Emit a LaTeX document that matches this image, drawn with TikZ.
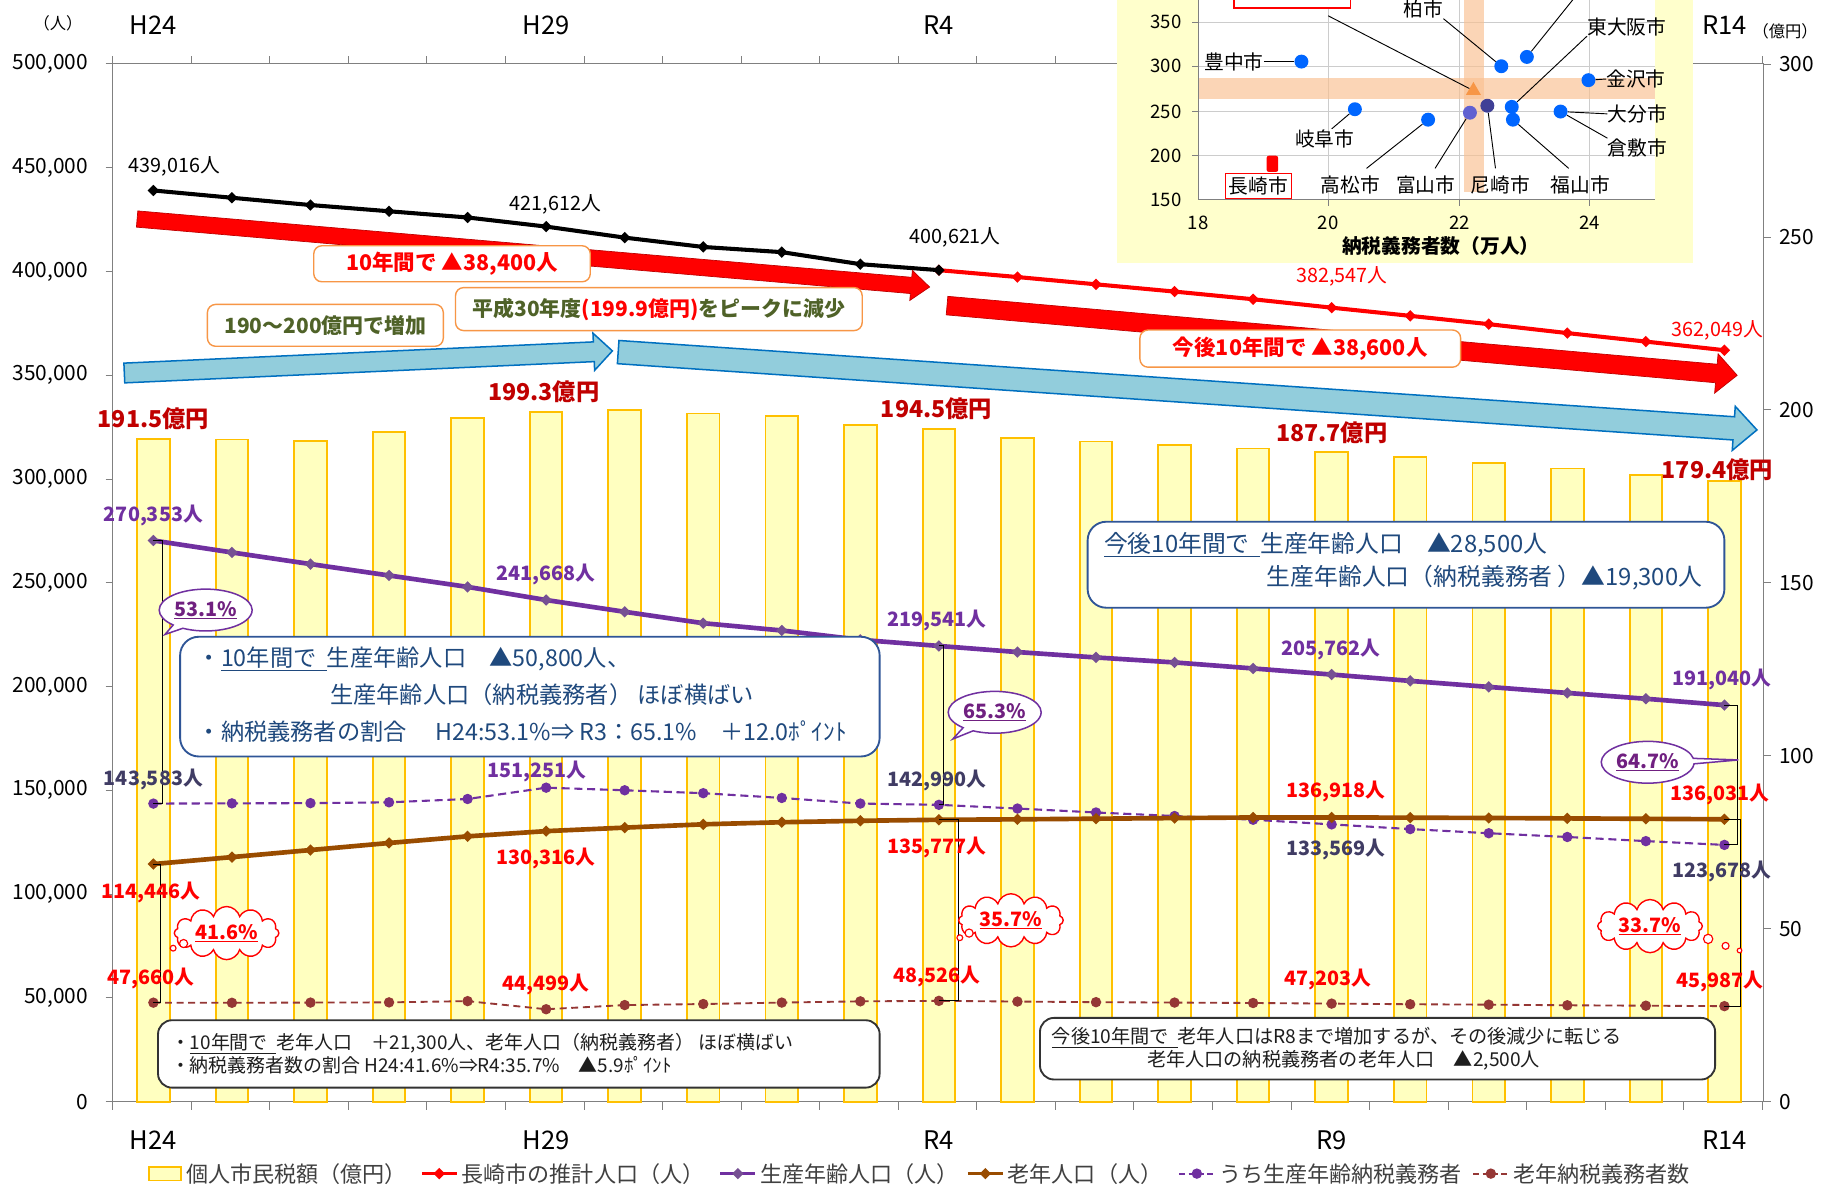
\documentclass[tikz,border=0pt]{standalone}
\usepackage{fontspec}
\setmainfont{Noto Sans CJK JP}
\usetikzlibrary{calc,shapes.callouts,shapes.symbols,shapes.geometric}
\newcommand\fz[1]{\fontsize{#1}{#1}\selectfont}
\definecolor{barfill}{RGB}{255,255,192}
\definecolor{barline}{RGB}{255,192,0}
\definecolor{purp}{RGB}{112,48,160}
\definecolor{brn}{RGB}{153,76,0}
\definecolor{brnd}{RGB}{149,55,53}
\definecolor{dred}{RGB}{192,0,0}
\definecolor{slate}{RGB}{64,60,100}
\definecolor{olive}{RGB}{79,98,40}
\definecolor{orbox}{RGB}{247,150,70}
\definecolor{bluebox}{RGB}{47,85,151}
\definecolor{bluetxt}{RGB}{31,73,125}
\definecolor{arrblue}{RGB}{146,205,220}
\definecolor{arrblueb}{RGB}{0,112,192}
\definecolor{axisgray}{RGB}{128,128,128}
\definecolor{legtxt}{RGB}{64,64,64}
\definecolor{insety}{RGB}{255,255,204}
\definecolor{band}{RGB}{250,192,144}
\definecolor{dotblue}{RGB}{0,102,255}
\definecolor{pctpurp}{RGB}{112,32,128}
\definecolor{dtxt}{RGB}{30,30,30}
\newcommand\fatarrow[6]{%
  \coordinate (fa-c) at ($(#3)!#5!(#2)$);
  \filldraw[#1] ($(#2)!#4!90:(#3)$) -- ($(fa-c)!#4!90:(#3)$) -- ($(fa-c)!#6!90:(#3)$) -- (#3) -- ($(fa-c)!#6!-90:(#3)$) -- ($(fa-c)!#4!-90:(#3)$) -- ($(#2)!#4!-90:(#3)$) -- cycle;}
\begin{document}
\begin{tikzpicture}[x=1pt,y=-1pt,
  ax/.style={axisgray, line width=0.8pt},
  axlab/.style={inner sep=0pt, font=\fz{18}, text=black},
  cat/.style={inner sep=0pt, font=\fz{22}, text=black},
  lab/.style={inner sep=0pt, font=\fz{17}},
  blab/.style={inner sep=0pt, font=\fz{17}\bfseries},
  yen/.style={inner sep=0pt, font=\fz{20}\bfseries, text=dred},
  bar/.style={draw=barline, fill=barfill, line width=1.6pt},
  dia/.style={diamond, inner sep=0pt, minimum size=10pt},
  dotm/.style={circle, inner sep=0pt, minimum size=9pt},
  obox/.style={draw=orbox, fill=white, rounded corners=7pt, line width=1.2pt, inner sep=0pt},
  bbox/.style={draw=bluebox, fill=white, rounded corners=16pt, line width=1.6pt, inner sep=0pt},
  kbox/.style={draw=black!80, fill=white, rounded corners=12pt, line width=1.6pt, inner sep=0pt},
  btxt/.style={inner sep=0pt, anchor=west, font=\fz{20}, text=bluetxt},
  ktxt/.style={inner sep=0pt, anchor=west, font=\fz{16.3}, text=dtxt},
  ecall/.style={ellipse callout, draw=purp, fill=white, line width=1.3pt, minimum width=80pt, minimum height=36pt, inner sep=0pt, font=\fz{17}\bfseries, text=pctpurp},
  cld/.style={cloud, cloud puffs=12, aspect=2.4, draw=red, fill=white, line width=1.2pt, minimum width=90pt, minimum height=36pt, inner sep=0pt, font=\fz{17}\bfseries, text=red},
  puff/.style={circle, draw=red, fill=white, line width=1pt, inner sep=0pt},
  redarr/.style={fill=red, draw=red!75!black, line width=0.6pt},
  bluarr/.style={fill=arrblue, draw=arrblueb, line width=1.3pt},
  leg/.style={inner sep=0pt, anchor=west, font=\fz{19}, text=legtxt},
  ilab/.style={inner sep=0pt, font=\fz{17}, text=black},
  inum/.style={inner sep=0pt, font=\fz{16}, text=black},
  idot/.style={circle, fill=dotblue, inner sep=0pt, minimum size=12pt},
  pt/.style={black, line width=0.8pt}
]
\useasboundingbox (0,0) rectangle (1568,1019);
\fill[white] (0,0) rectangle (1568,1019);

% ---------- axes ----------
\draw[ax] (97,55) -- (1518,55);
\draw[ax] (97,948) -- (1518,948);
\draw[ax] (97,55) -- (97,948);
\draw[ax] (1518,55) -- (1518,948);
\foreach \k in {0,...,21} {
  \draw[ax] ({97+67.6*\k},55) -- ({97+67.6*\k},48);
  \draw[ax] ({97+67.6*\k},948) -- ({97+67.6*\k},955);
}
\foreach \k in {0,...,10} \draw[ax] (91,{948-89.3*\k}) -- (97,{948-89.3*\k});
\foreach \k in {0,...,6} \draw[ax] (1518,{948-148.8*\k}) -- (1524,{948-148.8*\k});

\node[axlab, anchor=east] (yl0) at (76,948) {0};
\node[axlab, anchor=east] (yl1) at (76,858.7) {50,000};
\node[axlab, anchor=east] (yl2) at (76,769.4) {100,000};
\node[axlab, anchor=east] (yl3) at (76,680.1) {150,000};
\node[axlab, anchor=east] (yl4) at (76,590.8) {200,000};
\node[axlab, anchor=east] (yl5) at (76,501.5) {250,000};
\node[axlab, anchor=east] (yl6) at (76,412.2) {300,000};
\node[axlab, anchor=east] (yl7) at (76,322.9) {350,000};
\node[axlab, anchor=east] (yl8) at (76,233.6) {400,000};
\node[axlab, anchor=east] (yl9) at (76,144.3) {450,000};
\node[axlab, anchor=east] (yl10) at (76,55) {500,000};
\node[axlab, anchor=west] (yr0) at (1531,948) {0};
\node[axlab, anchor=west] (yr1) at (1531,799.2) {50};
\node[axlab, anchor=west] (yr2) at (1531,650.4) {100};
\node[axlab, anchor=west] (yr3) at (1531,501.6) {150};
\node[axlab, anchor=west] (yr4) at (1531,352.8) {200};
\node[axlab, anchor=west] (yr5) at (1531,204) {250};
\node[axlab, anchor=west] (yr6) at (1531,55) {300};
\node[inner sep=0pt, font=\fz{14}] (unitL) at (50,20) {（人）};
\node[inner sep=0pt, font=\fz{14}, anchor=west] (unitR) at (1508,27) {（億円）};

\node[cat] (t1) at (132,22) {H24};
\node[cat] (t2) at (470,22) {H29};
\node[cat] (t3) at (808,22) {R4};
\node[cat] (t5) at (1484,22) {R14};
\node[cat] (b1) at (132,981) {H24};
\node[cat] (b2) at (470,981) {H29};
\node[cat] (b3) at (808,981) {R4};
\node[cat] (b4) at (1146,981) {R9};
\node[cat] (b5) at (1484,981) {R14};

% ---------- bars ----------
\foreach \v [count=\i from 0] in {191.5,191.4,191.0,193.5,197.5,199.3,199.9,198.9,198.2,195.6,194.5,191.8,190.8,189.8,188.8,187.7,186.4,184.7,183.0,181.1,179.4}
  \draw[bar] ({132+67.6*\i-14},948) rectangle ({132+67.6*\i+14},{948-2.977*\v});

% ---------- series ----------
\foreach \v [count=\i from 0] in {439.016,435.5,432.0,429.0,426.0,421.612,416.3,411.8,409.3,403.5,400.621}
  \coordinate (bk\i) at ({132+67.6*\i},{948-1.786*\v});
\foreach \v [count=\i from 10] in {400.621,397.3,393.8,390.3,386.6,382.547,378.6,374.6,370.3,366.2,362.049}
  \coordinate (rd\i) at ({132+67.6*\i},{948-1.786*\v});
\foreach \v [count=\i from 0] in {270.353,264.6,259.0,253.5,248.0,241.668,236.0,230.5,227.0,222.5,219.541,216.6,214.0,211.6,208.7,205.762,202.7,199.8,196.9,194.1,191.040}
  \coordinate (pu\i) at ({132+67.6*\i},{948-1.786*\v});
\foreach \v [count=\i from 0] in {143.583,143.7,143.8,144.2,145.8,151.251,150.0,148.6,146.3,143.6,142.990,141.2,139.3,137.6,135.8,133.569,131.3,129.3,127.5,125.5,123.678}
  \coordinate (pd\i) at ({132+67.6*\i},{948-1.786*\v});
\foreach \v [count=\i from 0] in {114.446,117.8,121.2,124.6,127.8,130.316,132.0,133.6,134.6,135.3,135.777,136.0,136.3,136.6,136.9,136.918,136.8,136.65,136.45,136.25,136.031}
  \coordinate (br\i) at ({132+67.6*\i},{948-1.786*\v});
\foreach \v [count=\i from 0] in {47.660,47.6,47.7,47.8,48.4,44.499,46.5,47.0,47.7,48.3,48.526,48.2,47.9,47.7,47.5,47.203,46.9,46.7,46.4,46.2,45.987}
  \coordinate (bd\i) at ({132+67.6*\i},{948-1.786*\v});

\draw[brnd, line width=1.6pt, dash pattern=on 6pt off 4pt] (bd0) \foreach \i in {1,...,20}{ -- (bd\i)};
\foreach \i in {0,...,20} \node[dotm, fill=brnd] (mbd\i) at (bd\i) {};
\draw[purp, line width=1.8pt, dash pattern=on 7pt off 4pt] (pd0) \foreach \i in {1,...,20}{ -- (pd\i)};
\foreach \i in {0,...,20} \node[dotm, fill=purp] (mpd\i) at (pd\i) {};
\draw[brn, line width=4pt, line join=round] (br0) \foreach \i in {1,...,20}{ -- (br\i)};
\foreach \i in {0,...,20} \node[dia, fill=brn] (mbr\i) at (br\i) {};
\draw[purp, line width=4pt, line join=round] (pu0) \foreach \i in {1,...,20}{ -- (pu\i)};
\foreach \i in {0,...,20} \node[dia, fill=purp!60!gray] (mpu\i) at (pu\i) {};
\draw[red, line width=3.5pt, line join=round] (rd10) \foreach \i in {11,...,20}{ -- (rd\i)};
\foreach \i in {10,...,20} \node[dia, fill=red] (mrd\i) at (rd\i) {};
\draw[black, line width=3.5pt, line join=round] (bk0) \foreach \i in {1,...,10}{ -- (bk\i)};
\foreach \i in {0,...,10} \node[dia, fill=black] (mbk\i) at (bk\i) {};

% brackets
\draw[pt] (pu0) -- ++(8,0) |- (pd0);
\draw[pt] (pu10) -- ++(4,0) |- (pd10);
\draw[pt] (pu20) -- ++(11,0) |- (pd20);
\draw[pt] (br0) -- ++(6,0) |- (bd0);
\draw[pt] (br10) -- ++(17,0) |- (bd10);
\draw[pt] (br20) -- ++(14,0) |- (bd20);

% ---------- data labels ----------
\node[lab] (lb1) at (150,143) {439,016人};
\node[lab] (lb2) at (478,176) {421,612人};
\node[lab] (lb3) at (822,204) {400,621人};
\node[lab, text=red] (lr1) at (1155,238) {382,547人};
\node[lab, text=red] (lr2) at (1478,284) {362,049人};
\node[yen] (ly1) at (132,360) {191.5億円};
\node[yen] (ly2) at (468,337) {199.3億円};
\node[yen] (ly3) at (806,352) {194.5億円};
\node[yen] (ly4) at (1146,372) {187.7億円};
\node[yen] (ly5) at (1478,404) {179.4億円};
\node[blab, text=purp] (lp1) at (132,444) {270,353人};
\node[blab, text=purp] (lp2) at (470,494) {241,668人};
\node[blab, text=purp] (lp3) at (806,534) {219,541人};
\node[blab, text=purp] (lp4) at (1145,559) {205,762人};
\node[blab, text=purp] (lp5) at (1482,585) {191,040人};
\node[blab, text=slate] (ld1) at (132,671) {143,583人};
\node[blab, text=purp] (ld2) at (462,664) {151,251人};
\node[blab, text=slate] (ld3) at (806,672) {142,990人};
\node[blab, text=slate] (ld4) at (1150,731) {133,569人};
\node[blab, text=slate] (ld5) at (1482,750) {123,678人};
\node[blab, text=red] (lo1) at (130,768) {114,446人};
\node[blab, text=red] (lo2) at (470,739) {130,316人};
\node[blab, text=red] (lo3) at (806,729) {135,777人};
\node[blab, text=red] (lo4) at (1150,681) {136,918人};
\node[blab, text=red] (lo5) at (1480,684) {136,031人};
\node[blab, text=red] (le1) at (130,842) {47,660人};
\node[blab, text=red] (le2) at (470,847) {44,499人};
\node[blab, text=red] (le3) at (806,840) {48,526人};
\node[blab, text=red] (le4) at (1143,843) {47,203人};
\node[blab, text=red] (le5) at (1480,845) {45,987人};

% ---------- big arrows ----------
\coordinate (ra1s) at (118,188.5);
\coordinate (ra1e) at (800,247);
\coordinate (ra2s) at (815,263);
\coordinate (ra2e) at (1495,323);
\coordinate (ba1s) at (107,321);
\coordinate (ba1e) at (527,302);
\coordinate (ba2s) at (532,303);
\coordinate (ba2e) at (1512,370);
\fatarrow{redarr}{ra1s}{ra1e}{7pt}{16pt}{13pt}
\fatarrow{redarr}{ra2s}{ra2e}{8pt}{18pt}{17pt}
\fatarrow{bluarr}{ba1s}{ba1e}{8.5pt}{16pt}{16pt}
\fatarrow{bluarr}{ba2s}{ba2e}{10pt}{20pt}{19pt}

% ---------- orange boxes ----------
\node[obox, minimum width=238pt, minimum height=31pt, font=\fz{18.5}\bfseries, text=red] (bx1) at (389,227) {10年間で ▲38,400人};
\node[obox, minimum width=203pt, minimum height=36pt, font=\fz{18}\bfseries, text=olive] (bx2) at (280,280) {190～200億円で増加};
\node[obox, minimum width=350pt, minimum height=37pt, font=\fz{18}\bfseries, text=olive] (bx3) at (567,266) {平成30年度{\color{red}(199.9億円)}をピークに減少};
\node[obox, minimum width=276pt, minimum height=32pt, font=\fz{18.5}\bfseries, text=red] (bx4) at (1119,300) {今後10年間で ▲38,600人};

% ---------- text boxes ----------
\node[bbox, minimum width=602pt, minimum height=103pt] (bxA) at (456,599.5) {};
\node[btxt] (bxA1) at (170,567) {・\underline{10年間で\ \ }生産年齢人口　▲50,800人、};
\node[btxt] (bxA2) at (284,598) {生産年齢人口（納税義務者）\ ほぼ横ばい};
\node[btxt] (bxA3) at (170,630) {・納税義務者の割合　 H24:53.1\%⇒ R3：65.1\%　＋12.0ﾎﾟｲﾝﾄ};

\node[bbox, minimum width=548pt, minimum height=74pt] (bxB) at (1210,486) {};
\node[btxt, font=\fz{20.5}] (bxB1) at (950,469) {\underline{今後10年間で\ \ }生産年齢人口　▲28,500人};
\node[btxt, font=\fz{20.5}] (bxB2) at (1090,497) {生産年齢人口（納税義務者 ）▲19,300人};

\node[kbox, minimum width=621pt, minimum height=58pt] (bxC) at (446.5,907) {};
\node[ktxt] (bxC1) at (147,898) {・\underline{10年間で\ \ }老年人口　＋21,300人、老年人口（納税義務者）\ ほぼ横ばい};
\node[ktxt] (bxC2) at (147,917) {・納税義務者数の割合\ H24:41.6\%⇒R4:35.7\%　▲5.9ﾎﾟｲﾝﾄ};

\node[kbox, minimum width=581pt, minimum height=53pt] (bxD) at (1185.5,902.5) {};
\node[ktxt, font=\fz{16.5}] (bxD1) at (905,893) {\underline{今後10年間で\ \ }老年人口はR8まで増加するが、その後減少に転じる};
\node[ktxt, font=\fz{16.5}] (bxD2) at (987,912) {老年人口の納税義務者の老年人口　▲2,500人};

% ---------- callouts ----------
\node[ecall, callout absolute pointer={(142,546)}] (co1) at (177,525) {\underline{53.1\%}};
\node[ecall, callout absolute pointer={(820,636)}] (co2) at (856,613) {\underline{65.3\%}};
\node[ecall, callout absolute pointer={(1496,654)}] (co3) at (1418,656) {\underline{64.7\%}};
\node[cld] (cl1) at (195,803) {\underline{41.6\%}};
\node[puff, minimum size=7pt] (cl1a) at (158,812) {};
\node[puff, minimum size=5pt] (cl1b) at (149,816) {};
\node[cld] (cl2) at (870,792) {\underline{35.7\%}};
\node[puff, minimum size=7pt] (cl2a) at (834,803) {};
\node[puff, minimum size=5pt] (cl2b) at (826,807) {};
\node[cld] (cl3) at (1420,797) {\underline{33.7\%}};
\node[puff, minimum size=8pt] (cl3a) at (1470,808) {};
\node[puff, minimum size=6pt] (cl3b) at (1485,814) {};
\node[puff, minimum size=4pt] (cl3c) at (1497,818) {};

% ---------- legend ----------
\draw[draw=barline, fill=barfill, line width=1.5pt] (128,1004) rectangle (156,1016);
\node[leg] (lg1) at (160,1010) {個人市民税額（億円）};
\draw[red, line width=3pt] (363,1010) -- (393,1010);
\node[dia, fill=red] (lgm2) at (378,1010) {};
\node[leg] (lg2) at (397,1010) {長崎市の推計人口（人）};
\draw[purp, line width=3pt] (620,1010) -- (650,1010);
\node[dia, fill=purp!60!gray] (lgm3) at (635,1010) {};
\node[leg] (lg3) at (654,1010) {生産年齢人口（人）};
\draw[brn, line width=3pt] (833,1010) -- (863,1010);
\node[dia, fill=brn] (lgm4) at (848,1010) {};
\node[leg] (lg4) at (867,1010) {老年人口（人）};
\draw[purp, line width=1.8pt, dash pattern=on 5pt off 3pt] (1015,1010) -- (1045,1010);
\node[dotm, fill=purp] (lgm5) at (1030,1010) {};
\node[leg] (lg5) at (1049,1010) {うち生産年齢納税義務者};
\draw[brnd, line width=1.8pt, dash pattern=on 5pt off 3pt] (1268,1010) -- (1298,1010);
\node[dotm, fill=brnd] (lgm6) at (1283,1010) {};
\node[leg] (lg6) at (1302,1010) {老年納税義務者数};

% ---------- inset ----------
\fill[insety] (961,-2) rectangle (1457,226);
\fill[white] (1031,-2) rectangle (1424,172);
\foreach \yy in {19.2,57.4,95.6,133.8} {
  \draw[gray!40, line width=0.7pt] (1031,\yy) -- (1424,\yy);
  \draw[gray, line width=0.7pt] (1026,\yy) -- (1031,\yy);
}
\foreach \xx in {1143.4,1255.8,1368.2} {
  \draw[gray!40, line width=0.7pt] (\xx,-2) -- (\xx,172);
  \draw[gray, line width=0.7pt] (\xx,172) -- (\xx,177);
}
\fill[band, opacity=0.65] (1031,67) rectangle (1424,85);
\fill[band, opacity=0.65] (1259.5,-2) rectangle (1277,165);
\draw[gray, line width=0.8pt] (1031,-2) -- (1031,172) -- (1424,172);
\node[inum, anchor=east] (iy1) at (1017,19) {350};
\node[inum, anchor=east] (iy2) at (1017,57) {300};
\node[inum, anchor=east] (iy3) at (1017,96) {250};
\node[inum, anchor=east] (iy4) at (1017,134) {200};
\node[inum, anchor=east] (iy5) at (1017,172) {150};
\node[inum] (ix1) at (1031,192) {18};
\node[inum] (ix2) at (1143,192) {20};
\node[inum] (ix3) at (1256,192) {22};
\node[inum] (ix4) at (1368,192) {24};
\node[inner sep=0pt, font=\fz{17}\bfseries] (ixt) at (1240,212) {納税義務者数（万人）};

\node[idot] (dToyo) at (1120,53) {};
\node[idot] (dKashi) at (1292,57) {};
\node[idot] (dTop) at (1314,49) {};
\node[idot] (dKana) at (1367,69) {};
\node[idot] (dGifu) at (1166,94) {};
\node[idot] (dTaka) at (1229,103) {};
\node[idot, fill=blue!55!gray!80] (dToya) at (1265,97) {};
\node[idot, fill=blue!45!black!75] (dAma) at (1280,91) {};
\node[idot] (dHiga) at (1301,92) {};
\node[idot] (dFuku) at (1302,103) {};
\node[idot] (dOita) at (1343,96) {};
\node[regular polygon, regular polygon sides=3, fill=orbox, inner sep=0pt, minimum size=15pt] (dTri) at (1268,78) {};
\node[rectangle, rounded corners=2pt, fill=red, inner sep=0pt, minimum width=10pt, minimum height=14pt] (dNaga) at (1095,141) {};

\node[ilab] (nToyo) at (1062,53) {豊中市};
\node[ilab] (nKashi) at (1225,8) {柏市};
\node[ilab] (nHiga) at (1400,23) {東大阪市};
\node[ilab] (nKana) at (1408,68) {金沢市};
\node[ilab] (nOita) at (1409,98) {大分市};
\node[ilab] (nKura) at (1409,127) {倉敷市};
\node[ilab] (nGifu) at (1140,120) {岐阜市};
\node[ilab] (nTaka) at (1162,159) {高松市};
\node[ilab] (nToya) at (1227,159) {富山市};
\node[ilab] (nAma) at (1291,159) {尼崎市};
\node[ilab] (nFuku) at (1360,159) {福山市};
\node[ilab, draw=red, line width=1.2pt, fill=white, inner sep=3pt] (nNaga) at (1083,160) {長崎市};
\node[draw=red, line width=1.2pt, fill=white, inner sep=0pt, minimum width=100pt, minimum height=16pt] (nTopBox) at (1112,-1) {};
\coordinate (fTop) at (1355,-2);

\draw[pt] (nToyo.east) -- (dToyo.west);
\draw[pt] (nKashi.south east) -- (dKashi);
\draw[pt] (dTop) -- (fTop);
\draw[pt] (nHiga.south west) -- (dHiga);
\draw[pt] (dKana) -- (nKana.west);
\draw[pt] (dOita) -- (nOita.west);
\draw[pt] (dOita) -- (nKura.north west);
\draw[pt] ($(nGifu.north)+(6,-1)$) -- (dGifu);
\draw[pt] ($(nTaka.north)+(14,-6)$) -- (dTaka);
\draw[pt] ($(nToya.north)+(8,-6)$) -- (dToya);
\draw[pt] ($(nAma.north)+(-4,-6)$) -- (dAma);
\draw[pt] ($(nFuku.north)+(-10,-6)$) -- (dFuku);
\draw[pt] ($(nTopBox.south)+(31,6)$) -- (dTri);
\end{tikzpicture}
\end{document}
